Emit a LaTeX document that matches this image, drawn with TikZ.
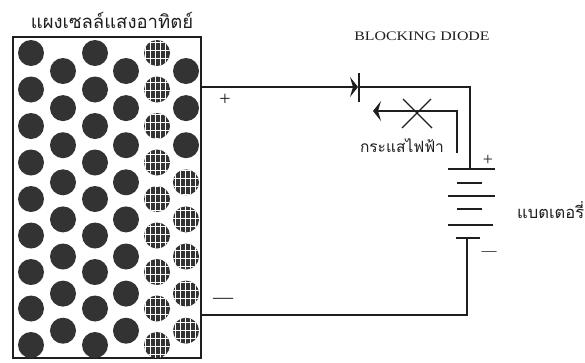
\documentclass[tikz,border=0pt]{standalone}
\usepackage{fontspec}
\setmainfont{Liberation Serif}
\newfontfamily\thaifont[Script=Thai]{Loma}
\usetikzlibrary{arrows.meta,patterns.meta}
\definecolor{cellgray}{HTML}{333333}
\definecolor{ink}{HTML}{1E1E1E}
\tikzset{
  wire/.style={draw=ink, line width=1.3pt},
  plate/.style={draw=ink, line width=1.4pt},
  cell/.style={circle, fill=cellgray, minimum size=26pt, inner sep=0pt},
  litcell/.style={cell,
    postaction={pattern={Lines[angle=90,distance=5pt,line width=0.8pt]}, pattern color=white},
    postaction={pattern={Lines[angle=0,distance=8pt,line width=0.6pt]}, pattern color=white}},
  thailabel/.style={font=\thaifont, text=ink, inner sep=0pt},
  sign/.style={font=\fontsize{20}{20}\selectfont, text=ink, inner sep=0pt},
  tip/.style={-{Stealth[length=8pt,width=20pt,inset=3pt]}}
}
\begin{document}
\begin{tikzpicture}[x=1pt,y=-1pt]
\useasboundingbox (0,0) rectangle (585,362);

% solar panel frame
\node (panel) [draw=ink, line width=1.8pt, minimum width=188pt, minimum height=321pt, inner sep=0pt] at (107,197.5) {};
\node (title) [thailabel, font=\thaifont\fontsize{18.5}{18.5}\selectfont] at (112,20) {แผงเซลล์แสงอาทิตย์};

% cells: odd columns
\foreach \cx [count=\i] in {31,95} {
  \foreach \k in {0,...,8} {
    \node (ca-\i-\k) [cell] at (\cx,{53+36.5*\k}) {};
  }
}
\foreach \k in {0,...,8} {
  \node (ca-3-\k) [litcell] at (157,{53+36.5*\k}) {};
}
% cells: even columns
\foreach \cx [count=\i] in {63,126} {
  \foreach \k in {0,...,7} {
    \node (cb-\i-\k) [cell] at (\cx,{71+37.1*\k}) {};
  }
}
\foreach \k in {0,...,2} {
  \node (cb-3-\k) [cell] at (186,{71+37.1*\k}) {};
}
\foreach \k in {3,...,7} {
  \node (cb-3-\k) [litcell] at (186,{71+37.1*\k}) {};
}

% circuit points
\coordinate (pplus) at (201,87);
\coordinate (dA) at (358,87);
\coordinate (dK) at (359,87);
\coordinate (tr) at (470,87);
\coordinate (btop) at (470,169);
\coordinate (bbot) at (467,238);
\coordinate (br) at (467,315);
\coordinate (pminus) at (201,315);

% wiring and blocking diode
\draw[wire, tip] (pplus) -- (dA);
\draw[wire] (dK) -- (tr) -- (btop);
\draw[wire, line width=1.5pt] (359,73) -- (359,102);
\draw[wire] (bbot) -- (br) -- (pminus);

% battery
\draw[plate] (448,169) -- (495,169);
\draw[plate] (457,183) -- (482,183);
\draw[plate] (448,196) -- (495,196);
\draw[plate] (457,209) -- (482,209);
\draw[plate] (448,225) -- (493,225);
\draw[plate] (456,238) -- (480,238);

% blocked reverse current
\coordinate (rv1) at (457,153);
\coordinate (rv2) at (457,111);
\coordinate (rv3) at (373,111);
\draw[wire, tip] (rv1) -- (rv2) -- (rv3);
\draw[wire, line width=1.1pt] (403,99) -- (432,128);
\draw[wire, line width=1.1pt] (431,99) -- (402,128);

% labels
\node (bd) [font=\fontsize{13}{13}\selectfont, text=ink, inner sep=0pt] at (422,36) {\scalebox{1.22}[1]{BLOCKING DIODE}};
\node (cur) [thailabel, font=\thaifont\fontsize{15.5}{15.5}\selectfont] at (402,146) {กระแสไฟฟ้า};
\node (bat) [thailabel, font=\thaifont\fontsize{16.5}{16.5}\selectfont, anchor=west] at (517,210) {แบตเตอรี่};
\node (ps1) [sign] at (225,100) {+};
\node (ms1) [sign] at (223,301) {—};
\node (ps2) [sign, font=\fontsize{18}{18}\selectfont] at (488,160) {+};
\node (ms2) [sign, font=\fontsize{15}{15}\selectfont] at (489,254) {—};
\end{tikzpicture}
\end{document}
